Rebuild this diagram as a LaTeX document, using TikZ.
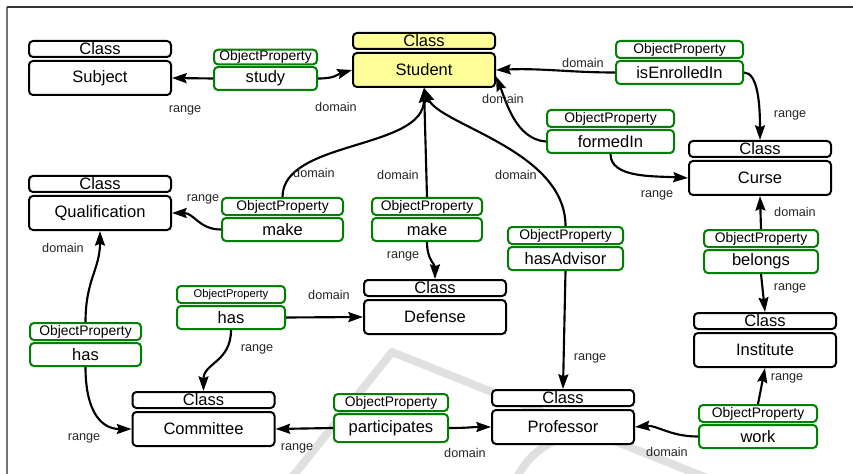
\documentclass[tikz,border=0pt]{standalone}
\usepackage{fontspec}
\setmainfont{Liberation Sans}
\usepackage{xcolor}
\usetikzlibrary{arrows.meta}

\definecolor{stdyellow}{RGB}{255,255,153}
\definecolor{propgreen}{RGB}{0,128,0}

\begin{document}
\begin{tikzpicture}[x=0.75pt,y=0.75pt,yscale=-1,xscale=1,
  clshead/.style={draw=black,line width=1.5pt,rounded corners=3pt,fill=white,minimum width=106.5pt,minimum height=12pt,inner sep=0pt,font=\fontsize{12.4}{12.4}\selectfont},
  clsbody/.style={draw=black,line width=1.5pt,rounded corners=3pt,fill=white,minimum width=106.5pt,minimum height=25.5pt,inner sep=0pt,font=\fontsize{12.4}{14}\selectfont},
  prophead/.style={draw=propgreen,line width=1.5pt,rounded corners=3pt,fill=white,minimum height=12.75pt,inner sep=0pt,font=\fontsize{10.4}{10.4}\selectfont},
  propbody/.style={draw=propgreen,line width=1.5pt,rounded corners=3pt,fill=white,minimum height=17.25pt,inner sep=0pt,font=\fontsize{12.4}{14}\selectfont},
  rel/.style={line width=1.6pt,-{Stealth[length=11pt,width=7.5pt,inset=1.5pt]}},
  lbl/.style={inner sep=0.75pt,text=black!85,font=\fontsize{9.5}{9.5}\selectfont}
]
\useasboundingbox (0,0) rectangle (853,474);

%Watermark
\draw [color=black!12,line width=6pt,line join=round] (290,480) -- (392,352) -- (712,480) ;
\draw [color=black!12,line width=6pt] (516,480) .. controls (524,462) and (536,450) .. (556,440) ;

%Frame
\draw [color=black!55,line width=1pt] (7,474) -- (7,7) ;
\draw [color=black!80,line width=1pt] (7,7) -- (853,7) ;

%Classes
\node [clshead] (subjH) at (100,49) {Class};
\node [clsbody] (subj) at (100,78) {Subject};
\node [clshead,fill=stdyellow] (studH) at (424,41) {Class};
\node [clsbody,fill=stdyellow] (stud) at (424,70) {Student};
\node [clshead] (curseH) at (760,149) {Class};
\node [clsbody] (curse) at (760,178) {Curse};
\node [clshead] (qualH) at (100,184) {Class};
\node [clsbody] (qual) at (100,213) {Qualification};
\node [clshead] (defH) at (435,288) {Class};
\node [clsbody] (def) at (435,317) {Defense};
\node [clshead] (instH) at (765,321) {Class};
\node [clsbody] (inst) at (765,350) {Institute};
\node [clshead] (comH) at (203.5,400) {Class};
\node [clsbody] (com) at (203.5,429) {Committee};
\node [clshead] (profH) at (563,398) {Class};
\node [clsbody] (prof) at (563,427) {Professor};

%Object properties
\node [prophead,minimum width=77.25pt,minimum height=11pt] (studyH) at (265.5,57) {ObjectProperty};
\node [propbody,minimum width=77.25pt] (study) at (265.5,78.5) {study};
\node [prophead,minimum width=95.25pt] (enrolH) at (679.5,49.5) {ObjectProperty};
\node [propbody,minimum width=95.25pt] (enrol) at (679.5,72.5) {isEnrolledIn};
\node [prophead,minimum width=95.25pt] (formedH) at (610.5,118.5) {ObjectProperty};
\node [propbody,minimum width=95.25pt] (formed) at (610.5,141.5) {formedIn};
\node [prophead,minimum width=90.75pt] (makeqH) at (282.5,206.5) {ObjectProperty};
\node [propbody,minimum width=90.75pt] (makeq) at (282.5,229.5) {make};
\node [prophead,minimum width=82.5pt] (makedH) at (427,206.5) {ObjectProperty};
\node [propbody,minimum width=82.5pt] (maked) at (427,229.5) {make};
\node [prophead,minimum width=86.25pt] (advH) at (565.5,235.5) {ObjectProperty};
\node [propbody,minimum width=86.25pt] (adv) at (565.5,258.5) {hasAdvisor};
\node [prophead,minimum width=85.5pt] (belH) at (761,238.5) {ObjectProperty};
\node [propbody,minimum width=85.5pt] (bel) at (761,261.5) {belongs};
\node [prophead,minimum width=81pt,font=\fontsize{8.4}{8.4}\selectfont] (hasdH) at (231,294.5) {ObjectProperty};
\node [propbody,minimum width=81pt] (hasd) at (231,317.5) {has};
\node [prophead,minimum width=83.25pt] (hasqH) at (85.5,331.5) {ObjectProperty};
\node [propbody,minimum width=83.25pt] (hasq) at (85.5,354.5) {has};
\node [prophead,minimum width=85.5pt] (partH) at (391,402.5) {ObjectProperty};
\node [propbody,minimum width=85.5pt,minimum height=21pt] (part) at (391,428) {participates};
\node [prophead,minimum width=88.5pt] (workH) at (758,413.5) {ObjectProperty};
\node [propbody,minimum width=88.5pt] (work) at (758,436.5) {work};

%Domain and range links
\draw [rel] (study.west) -- (subj.east) ;
\draw [rel] (study.east) .. controls +(18,0) and +(-14,4) .. (stud.west) ;
\draw [rel] (enrol.west) .. controls +(-45,0) and +(45,-2) .. (stud.east) ;
\draw [rel] (enrol.east) .. controls +(14,0) and +(0,-35) .. (curseH.north) ;
\draw [rel] (formed.west) .. controls +(-30,-2) and +(10,25) .. (stud.-5) ;
\draw [rel] (formed.south) .. controls +(0,24) and +(-35,-2) .. (curse.west) ;
\draw [rel] (makeqH.north) .. controls +(0,-57) and +(0,62) .. (stud.south) ;
\draw [rel] (makeq.west) .. controls +(-22,0) and +(22,0) .. (qual.east) ;
\draw [rel] (makedH.north) -- (stud.south) ;
\draw [rel] (maked.south) .. controls +(0,18) and +(0,-15) .. (defH.north) ;
\draw [rel] (advH.north) .. controls +(0,-76) and +(15,37) .. (stud.south) ;
\draw [rel] (adv.south) -- (profH.north) ;
\draw [rel] (belH.north) -- (curse.south) ;
\draw [rel] (bel.south) -- (instH.north) ;
\draw [rel] (hasd.east) -- (def.west) ;
\draw [rel] (hasd.south) .. controls +(0,32) and +(0,-28) .. (comH.north) ;
\draw [rel] (hasqH.north) .. controls +(0,-42) and +(0,38) .. (qual.south) ;
\draw [rel] (hasq.south) .. controls +(0,45) and +(-30,0) .. (com.west) ;
\draw [rel] (part.west) -- (com.east) ;
\draw [rel] (part.east) .. controls +(20,0) and +(-20,0) .. (prof.west) ;
\draw [rel] (workH.north) -- (inst.south) ;
\draw [rel] (work.west) .. controls +(-28,0) and +(22,-2) .. (prof.east) ;

% Text Node
\node [lbl] (studyR) at (185,110) {range};
\node [lbl] (studyD) at (336,107) {domain};
\node [lbl] (enrolD) at (583,63) {domain};
\node [lbl] (enrolR) at (790,115) {range};
\node [lbl] (formedD) at (503,99) {domain};
\node [lbl] (formedR) at (657,195) {range};
\node [lbl] (makeqD) at (314,173) {domain};
\node [lbl] (makeqR) at (203,199) {range};
\node [lbl] (makedD) at (398,175) {domain};
\node [lbl] (makedR) at (403,256) {range};
\node [lbl] (advD) at (516,175) {domain};
\node [lbl] (advR) at (590,358) {range};
\node [lbl] (belD) at (795,212) {domain};
\node [lbl] (belR) at (790,288) {range};
\node [lbl] (hasdD) at (329,295) {domain};
\node [lbl] (hasdR) at (257,349) {range};
\node [lbl] (hasqD) at (63,248) {domain};
\node [lbl] (hasqR) at (84,438) {range};
\node [lbl] (partR) at (297,448) {range};
\node [lbl] (partD) at (465,453) {domain};
\node [lbl] (workR) at (787,378) {range};
\node [lbl] (workD) at (667,452) {domain};

\end{tikzpicture}
\end{document}
